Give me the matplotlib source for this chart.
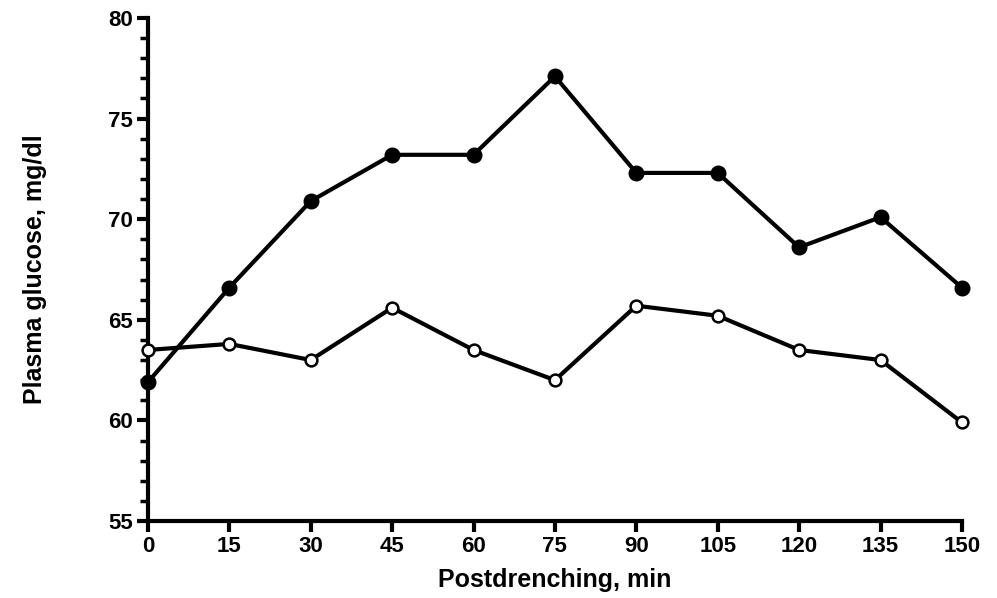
import matplotlib
matplotlib.use("Agg")
from matplotlib import pyplot as plt
from matplotlib.ticker import MultipleLocator

# time after drenching (min)
minutes = [0, 15, 30, 45, 60, 75, 90, 105, 120, 135, 150]
# plasma glucose, mg/dl
glucose_filled = [61.9, 66.6, 70.9, 73.2, 73.2, 77.1, 72.3, 72.3, 68.6, 70.1, 66.6]
glucose_open = [63.5, 63.8, 63.0, 65.6, 63.5, 62.0, 65.7, 65.2, 63.5, 63.0, 59.9]

xticks = minutes
yticks = [55, 60, 65, 70, 75, 80]

plt.rcParams['font.family'] = ['Liberation Sans', 'DejaVu Sans']

fig = plt.figure(figsize=(9.97, 5.98), dpi=100)
ax = fig.add_axes([0.1484, 0.1288, 0.8164, 0.8411])

ax.plot(minutes, glucose_filled, color='black', lw=3, marker='o', ms=10.5,
        mfc='black', mec='black', clip_on=False, zorder=3)
ax.plot(minutes, glucose_open, color='black', lw=3, marker='o', ms=8.5,
        mfc='white', mec='black', mew=1.8, clip_on=False, zorder=4)

ax.set_xlim(0, 150)
ax.set_ylim(55, 80)
ax.set_xticks(xticks)
ax.set_yticks(yticks)
ax.yaxis.set_minor_locator(MultipleLocator(1))

for side in ['top', 'right']:
    ax.spines[side].set_visible(False)
for side in ['left', 'bottom']:
    ax.spines[side].set_linewidth(3)

ax.tick_params(axis='both', which='major', direction='out', length=8, width=3,
               labelsize=16, pad=3)
ax.tick_params(axis='y', which='minor', direction='out', length=6, width=2.5)
for lab in ax.get_xticklabels() + ax.get_yticklabels():
    lab.set_fontweight('bold')

ax.set_xlabel('Postdrenching, min', fontsize=18, fontweight='bold', labelpad=8)
ax.set_ylabel('Plasma glucose, mg/dl', fontsize=18, fontweight='bold', labelpad=44)

plt.savefig('out.png', dpi=100)
